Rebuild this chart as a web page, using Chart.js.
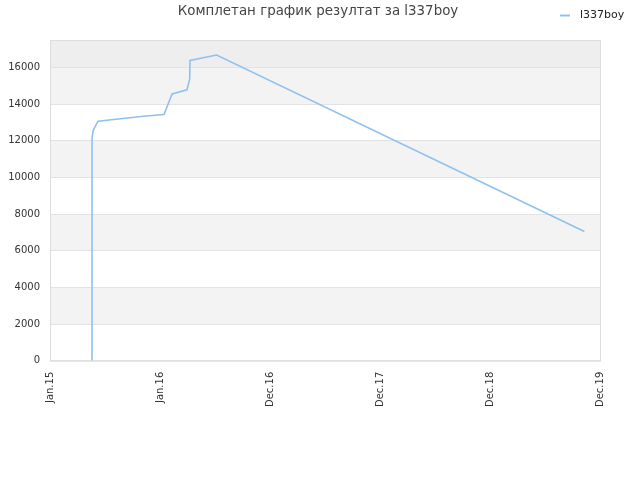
<!DOCTYPE html>
<html>
<head>
<meta charset="utf-8">
<script src="https://cdn.jsdelivr.net/npm/chart.js@4/dist/chart.umd.min.js"></script>
<style>
  html, body { margin: 0; padding: 0; background: #fff; }
  #wrap { width: 640px; height: 480px; }
</style>
</head>
<body>
<div id="wrap"><canvas id="myChart"></canvas></div>
<script>
// x in tick units: 0 = Jan.15, 1 = Jan.16, ... 5 = Dec.19
const tickLabels = ['Jan.15', 'Jan.16', 'Dec.16', 'Dec.17', 'Dec.18', 'Dec.19'];
const yTicks = [0, 2000, 4000, 6000, 8000, 10000, 12000, 14000, 16000];
const xValues = [0.382, 0.382, 0.392, 0.436, 0.60, 0.85, 1.036, 1.11, 1.245, 1.27, 1.273, 1.515, 4.858];
const scoreValues = [0, 12120, 12560, 13070, 13180, 13340, 13430, 14560, 14780, 15380, 16380, 16680, 7050];
const seriesName = 'l337boy';
const titleText = 'Комплетан график резултат за l337boy';

const points = xValues.map((x, i) => ({ x, y: scoreValues[i] }));

// background bands, plot border, title and legend
const decor = {
  id: 'decor',
  beforeDraw(chart) {
    const { ctx, chartArea: a, scales: { y } } = chart;
    ctx.save();
    const cols = ['#ffffff', '#f3f3f3'];
    yTicks.forEach((v, i) => {
      const top = y.getPixelForValue(i + 1 < yTicks.length ? yTicks[i + 1] : y.max);
      const bot = y.getPixelForValue(v);
      ctx.fillStyle = i === yTicks.length - 1 ? '#eeeeee' : cols[i % 2];
      ctx.fillRect(a.left, top, a.right - a.left, bot - top);
    });
    ctx.restore();
  },
  afterDraw(chart) {
    const { ctx, chartArea: a } = chart;
    const ds = chart.data.datasets[0];
    ctx.save();
    ctx.strokeStyle = '#dddddd';
    ctx.lineWidth = 1;
    ctx.strokeRect(a.left + 0.5, a.top + 0.5, a.right - a.left, a.bottom - a.top);

    ctx.fillStyle = '#444';
    ctx.font = '13.4px "DejaVu Sans"';
    ctx.textAlign = 'center';
    ctx.textBaseline = 'middle';
    ctx.fillText(titleText, 318, 12);

    ctx.strokeStyle = ds.borderColor;
    ctx.lineWidth = 2;
    ctx.beginPath();
    ctx.moveTo(560, 15.5);
    ctx.lineTo(570, 15.5);
    ctx.stroke();
    ctx.fillStyle = '#222';
    ctx.font = '11px "DejaVu Sans"';
    ctx.textAlign = 'left';
    ctx.fillText(ds.label, 580, 15);
    ctx.restore();
  }
};

new Chart(document.getElementById('myChart'), {
  type: 'line',
  data: {
    datasets: [{
      label: seriesName,
      data: points,
      borderColor: '#90c0f0',
      backgroundColor: '#90c0f0',
      borderWidth: 1.6,
      pointRadius: 0,
      tension: 0,
      fill: false
    }]
  },
  options: {
    responsive: true,
    maintainAspectRatio: false,
    animation: false,
    layout: { padding: { left: 0, right: 40, top: 40, bottom: 70 } },
    scales: {
      x: {
        type: 'linear',
        min: 0,
        max: 5,
        grid: { display: false },
        border: { display: false },
        ticks: {
          stepSize: 1,
          autoSkip: false,
          maxRotation: 90,
          minRotation: 90,
          color: '#333',
          font: { family: 'DejaVu Sans', size: 10 },
          callback: v => tickLabels[v]
        }
      },
      y: {
        min: 0,
        max: 17500,
        afterFit: s => { s.width = 50; },
        afterBuildTicks: s => { s.ticks = yTicks.map(v => ({ value: v })); },
        grid: { color: '#e2e2e2', drawTicks: false },
        border: { display: false },
        ticks: {
          autoSkip: false,
          padding: 10,
          color: '#333',
          font: { family: 'DejaVu Sans', size: 10 },
          callback: v => String(v)
        }
      }
    },
    plugins: {
      title: { display: false },
      legend: { display: false },
      tooltip: { enabled: false }
    }
  },
  plugins: [decor]
});
</script>
</body>
</html>
